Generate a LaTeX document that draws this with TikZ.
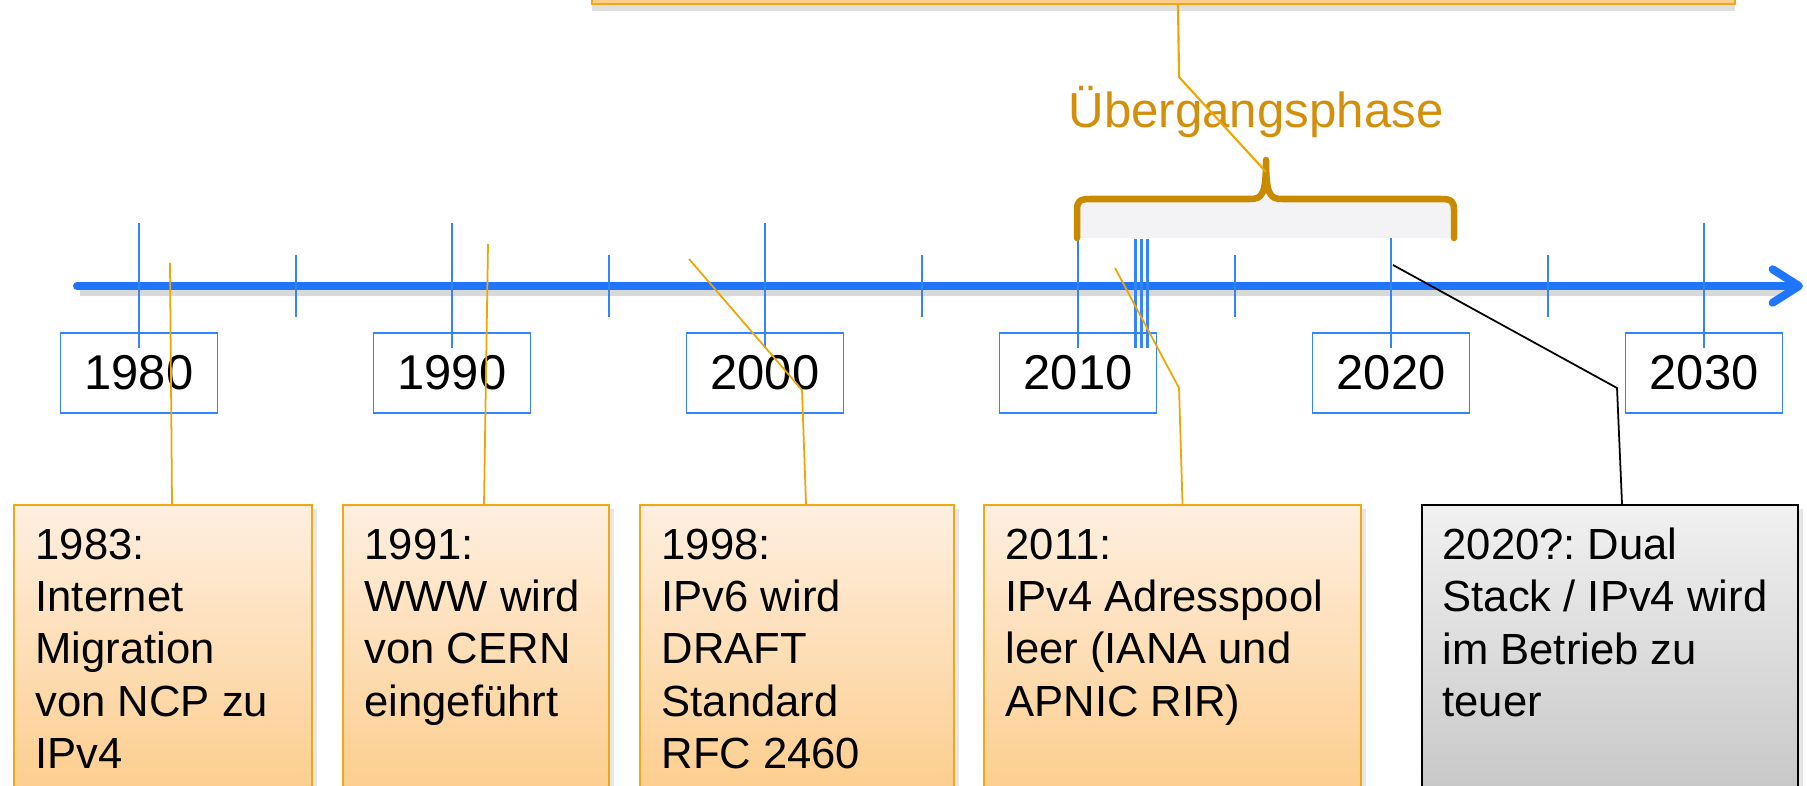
\documentclass[tikz,border=0pt]{standalone}
\usepackage{fontspec}
\setmainfont{Liberation Sans}
\usetikzlibrary{arrows.meta,shadows}
\frenchspacing

\definecolor{axisblue}{RGB}{31,117,254}
\definecolor{tickblue}{RGB}{51,133,255}
\definecolor{callorange}{RGB}{240,165,0}
\definecolor{braceorange}{RGB}{201,138,0}
\definecolor{phaseorange}{RGB}{212,143,10}
\definecolor{phasegrey}{RGB}{243,243,245}
\definecolor{evtop}{RGB}{254,239,224}
\definecolor{evbottom}{RGB}{253,205,140}
\definecolor{evborder}{RGB}{242,168,20}
\definecolor{greytop}{RGB}{241,241,241}
\definecolor{greybottom}{RGB}{199,199,199}

\begin{document}
\begin{tikzpicture}[x=0.01cm, y=-0.01cm,
    majortick/.style={tickblue, line width=0.57pt},
    yearbox/.style={draw=tickblue, line width=0.5pt, minimum width=1.57cm, minimum height=0.8cm,
      inner sep=0pt, font=\fontsize{13.9}{16}\selectfont},
    evbox/.style={draw=evborder, line width=0.6pt, top color=evtop, bottom color=evbottom,
      minimum height=2.9cm, anchor=north,
      drop shadow={opacity=0.2, shadow xshift=1.5pt, shadow yshift=-1pt}},
    evtext/.style={anchor=north west, inner sep=0pt, align=left, font=\fontsize{12.4}{14.9}\selectfont},
    callout/.style={callorange, line width=0.5pt}]
  \useasboundingbox (0,0) rectangle (1807,785);
  \clip (0,0) rectangle (1807,785);

  % time axis
  \draw[black, opacity=0.15, line width=2.6pt] (80,291) -- (1785,291);
  \draw[axisblue, line width=2.28pt, line cap=round, -{Straight Barb[length=7.5pt, width=9.5pt, round]}] (77,286) -- (1803,286);

  % ticks
  \foreach \i in {0,...,5}
    \draw[majortick] ({139+313*\i},223) -- ({139+313*\i},348);
  \foreach \i in {0,...,4}
    \draw[majortick] ({295.5+313*\i},255) -- ++(0,62);
  \foreach \x in {1135,1141,1147}
    \draw[majortick, line width=0.85pt] (\x,239) -- (\x,348);

  % decade labels
  \foreach \yr [count=\i from 0] in {1980,1990,...,2030}
    \node[yearbox] (y\yr) at ({139+313*\i},373) {\yr};

  % transition phase
  \fill[phasegrey] (1080,199) rectangle (1452,238);
  \draw[braceorange, line width=1.85pt, line cap=round, line join=round]
    (1077,238) -- (1077,210) .. controls (1077,201) and (1080,199) .. (1090,199)
    -- (1250,199) .. controls (1262,199) and (1266,195) .. (1266,160)
    .. controls (1266,195) and (1270,199) .. (1282,199)
    -- (1441,199) .. controls (1451,199) and (1454,201) .. (1454,210) -- (1454,238);
  \node[anchor=base, text=phaseorange, font=\fontsize{14}{16}\selectfont] (phase) at (1256,127) {Übergangsphase};
  \coordinate (phasetip) at (1266,172);

  % callout boxes
  \node[draw=evborder, line width=0.6pt, fill=evbottom, minimum width=11.43cm, minimum height=1cm,
    anchor=south, drop shadow={opacity=0.25, shadow xshift=0pt, shadow yshift=-2pt}] (topbox) at (1163.5,5) {};
  \node[evbox, minimum width=2.98cm] (e83) at (163,504) {};
  \node[evbox, minimum width=2.66cm] (e91) at (476,504) {};
  \node[evbox, minimum width=3.14cm] (e98) at (797,504) {};
  \node[evbox, minimum width=3.77cm] (e11) at (1172.5,504) {};
  \node[evbox, draw=black, top color=greytop, bottom color=greybottom, minimum width=3.76cm] (e20) at (1610,504) {};

  \node[evtext] (t83) at ([shift={(22,24)}]e83.north west) {1983:\\Internet\\Migration\\von NCP zu\\IPv4};
  \node[evtext] (t91) at ([shift={(22,24)}]e91.north west) {1991:\\WWW wird\\von CERN\\eingeführt};
  \node[evtext] (t98) at ([shift={(22,24)}]e98.north west) {1998:\\IPv6 wird\\DRAFT\\Standard\\RFC 2460};
  \node[evtext] (t11) at ([shift={(22,24)}]e11.north west) {2011:\\IPv4 Adresspool\\leer (IANA und\\APNIC RIR)};
  \node[evtext] (t20) at ([shift={(21,23)}]e20.north west) {2020?: Dual\\Stack / IPv4 wird\\im Betrieb zu\\teuer};

  % connectors
  \coordinate (c83) at (170,263);
  \coordinate (c91) at (488,244);
  \coordinate (c98) at (689,259);
  \coordinate (c11) at (1115,268);
  \coordinate (c20) at (1393,265);
  \draw[callout] (c83) -- ([xshift=0.09cm]e83.north);
  \draw[callout] (c91) -- ([xshift=0.08cm]e91.north);
  \draw[callout] (c98) -- (802,390) -- ([xshift=0.09cm]e98.north);
  \draw[callout] (c11) -- (1179,388) -- ([xshift=0.1cm]e11.north);
  \draw[black, line width=0.5pt] (c20) -- (1617,388) -- ([xshift=0.12cm]e20.north);
  \draw[callout, line width=0.6pt] ([xshift=0.145cm]topbox.south) -- (1179,77) -- (phasetip);
\end{tikzpicture}
\end{document}
